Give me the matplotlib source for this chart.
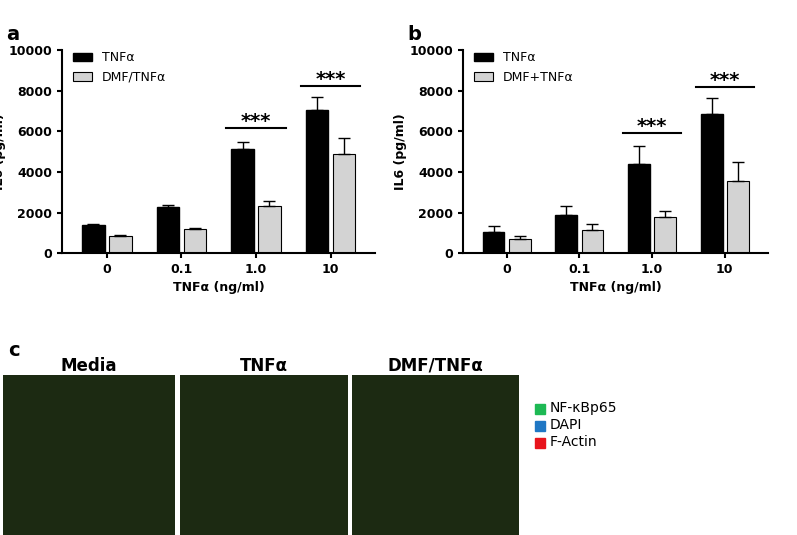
import matplotlib
matplotlib.use("Agg")
import matplotlib.pyplot as plt
import numpy as np
from matplotlib.patches import Rectangle

groups = ["0", "0.1", "1.0", "10"]
a_tnf = [1380, 2280, 5150, 7050]
a_tnf_err = [60, 80, 350, 650]
a_dmf = [820, 1180, 2320, 4870]
a_dmf_err = [60, 80, 250, 800]
b_tnf = [1050, 1900, 4400, 6850]
b_tnf_err = [300, 400, 900, 800]
b_dmf = [680, 1120, 1780, 3560]
b_dmf_err = [150, 300, 300, 950]
a_sig = [(2, 6150), (3, 8250)]
b_sig = [(2, 5900), (3, 8200)]

fig = plt.figure(figsize=(7.97, 5.35), dpi=100)

def panel(rect, t, d, te, de, sig, lab2, letter):
    ax = fig.add_axes(rect)
    x = np.arange(len(groups))
    w = 0.3
    ax.bar(x - w/2 - 0.03, t, w, color="black", edgecolor="black", label="TNFα")
    ax.errorbar(x - w/2 - 0.03, t, yerr=[np.zeros(4), te], fmt="none", ecolor="black", capsize=4, lw=1)
    ax.bar(x + w/2 + 0.03, d, w, color="#d3d3d3", edgecolor="black", lw=0.8, label=lab2)
    ax.errorbar(x + w/2 + 0.03, d, yerr=[np.zeros(4), de], fmt="none", ecolor="black", capsize=4, lw=1)
    for g, y in sig:
        ax.plot([g - 0.4, g + 0.4], [y, y], color="black", lw=1.5)
        ax.text(g, y - 150, "***", ha="center", va="bottom", fontsize=14, fontweight="bold")
    ax.set_xlim(-0.6, 3.6)
    ax.set_ylim(0, 10000)
    ax.set_yticks(range(0, 10001, 2000))
    ax.set_xticks(x)
    ax.set_xticklabels(groups)
    for s in ["top", "right"]:
        ax.spines[s].set_visible(False)
    ax.spines["left"].set_linewidth(1.5)
    ax.spines["bottom"].set_linewidth(1.5)
    ax.tick_params(labelsize=9, width=1.5)
    for lb in ax.get_xticklabels() + ax.get_yticklabels():
        lb.set_fontweight("bold")
    ax.set_ylabel("IL6 (pg/ml)", fontweight="bold", fontsize=9, labelpad=2)
    ax.set_xlabel("TNFα (ng/ml)", fontweight="bold", fontsize=9)
    ax.legend(loc="upper left", frameon=False, fontsize=9, handlelength=1.5,
              bbox_to_anchor=(0.0, 1.05))
    fig.text(rect[0] - 0.07, rect[1] + rect[3] + 0.02, letter, fontsize=14, fontweight="bold")
    return ax

panel([0.078, 0.527, 0.393, 0.379], a_tnf, a_dmf, a_tnf_err, a_dmf_err, a_sig, "DMF/TNFα", "a")
panel([0.581, 0.527, 0.383, 0.379], b_tnf, b_dmf, b_tnf_err, b_dmf_err, b_sig, "DMF+TNFα", "b")

titles = ["Media", "TNFα", "DMF/TNFα"]
xs = [3, 180, 352]
ws = [172, 168, 167]
for t, x0, wd in zip(titles, xs, ws):
    ax = fig.add_axes([x0/797, 0, wd/797, 160/535])
    ax.set_facecolor("#1c2a12")
    ax.set_xticks([]); ax.set_yticks([])
    for s in ax.spines.values():
        s.set_visible(False)
    ax.set_title(t, fontweight="bold", fontsize=12, pad=3)
fig.text(0.01, 0.335, "c", fontsize=14, fontweight="bold")

leg = [("NF-κBp65", "#1db954"), ("DAPI", "#1f77c4"), ("F-Actin", "#e8141c")]
for i, (n, c) in enumerate(leg):
    y = (535 - 408 - i*17)/535
    fig.patches.append(Rectangle((535/797, y - 0.011), 10/797, 10/535, color=c, transform=fig.transFigure))
    fig.text(550/797, y, n, fontsize=10, va="center")

fig.savefig("out.png", dpi=100)
